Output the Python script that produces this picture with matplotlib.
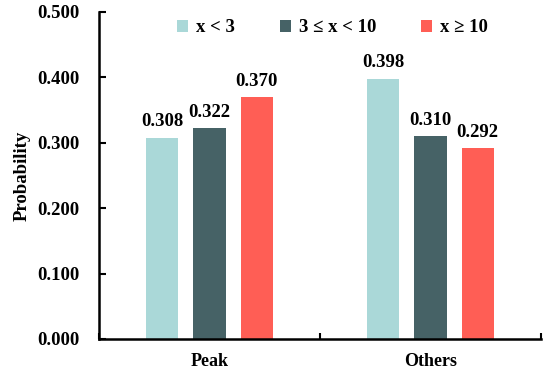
import matplotlib
matplotlib.use("Agg")
import matplotlib.pyplot as plt
import numpy as np

# data
categories = ["Peak", "Others"]
series_names = ["x < 3", "3 ≤ x < 10", "x ≥ 10"]
values = [
    [0.308, 0.398],
    [0.322, 0.310],
    [0.370, 0.292],
]
colors = ["#AAD8D8", "#466266", "#FF5E55"]
yticks = [0.0, 0.1, 0.2, 0.3, 0.4, 0.5]

plt.rcParams["font.family"] = ["Liberation Serif", "DejaVu Serif"]
plt.rcParams["font.weight"] = "bold"

fig = plt.figure(figsize=(5.5, 3.71), dpi=100)
ax = fig.add_axes([0.18, 0.0863, 0.8036, 0.8814])

x = np.arange(len(categories))
width = 0.145
step = 0.213
for i, (name, vals) in enumerate(zip(series_names, values)):
    pos = x + (i - 1) * step
    bars = ax.bar(pos, vals, width, color=colors[i], label=name)
    for b, v in zip(bars, vals):
        ax.text(b.get_x() + b.get_width() / 2, v + 0.011, f"{v:.3f}",
                ha="center", va="bottom", fontsize=13.5, fontweight="bold")

ax.set_xlim(-0.5, len(categories) - 0.5)
ax.set_ylim(0, 0.5)
ax.set_yticks(yticks)
ax.set_yticklabels([f"{t:.3f}" for t in yticks])
ax.set_xticks(np.arange(-0.5, len(categories), 1.0))
ax.set_xticklabels([])
ax.set_xticks(x, minor=True)
ax.set_xticklabels(categories, minor=True)
ax.tick_params(axis="x", which="minor", length=0, pad=10, labelsize=13)
ax.tick_params(axis="x", which="major", direction="in", length=4, width=1.5)
ax.tick_params(axis="y", direction="in", length=5, width=1.5, labelsize=13.5, pad=14)
for lbl in ax.get_yticklabels() + ax.get_xticklabels(minor=True):
    lbl.set_fontweight("bold")

for s in ["top", "right"]:
    ax.spines[s].set_visible(False)
for s in ["left", "bottom"]:
    ax.spines[s].set_linewidth(1.8)

ax.set_ylabel("Probability", fontsize=13.5, fontweight="bold", labelpad=5)

ax.legend(loc="center", bbox_to_anchor=(0.528, 0.952), ncol=3, frameon=False,
          handlelength=0.6, handleheight=0.6, handletextpad=0.4,
          columnspacing=2.4, prop={"size": 13.5, "weight": "bold"})

fig.savefig("out.png", dpi=100)
